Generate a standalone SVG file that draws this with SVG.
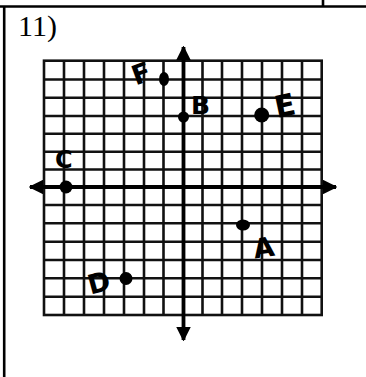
<svg xmlns="http://www.w3.org/2000/svg" width="366" height="377" viewBox="0 0 366 377">
<style>
.border{stroke:#000;stroke-width:2.6;fill:none}
.grid{stroke:#111;stroke-width:2.6;fill:none}
.axis{stroke:#000;stroke-width:3.8;fill:none}
.pt{fill:#000}
.lbl{font-family:"DejaVu Sans","Liberation Sans",sans-serif;font-weight:bold;fill:#000}
.num{font-family:"Liberation Serif","Times New Roman",serif;font-size:30px;fill:#000}
</style>
<defs>
<marker id="ah" viewBox="0 0 10 10" refX="9" refY="5" markerWidth="3.8" markerHeight="3.8" orient="auto" markerUnits="strokeWidth">
<path d="M0,0 L10,5 L0,10 Z" fill="#000"/>
</marker>
</defs>
<g id="frame">
<line class="border" x1="0" y1="6.5" x2="366" y2="6.5"/>
<line class="border" x1="323" y1="0" x2="323" y2="6.5"/>
<line class="border" x1="4.2" y1="6.5" x2="4.2" y2="377"/>
<text class="num" x="18" y="36">11)</text>
</g>
<g id="grid">
<rect class="grid" x="44" y="60.7" width="277.7" height="254.3"/>
<path class="grid" d="M44,79.5H321.7M44,97.8H321.7M44,116H321.7M44,133.8H321.7M44,151.7H321.7M44,169.5H321.7M44,205H321.7M44,223.3H321.7M44,241.7H321.7M44,260H321.7M44,278.3H321.7M44,296.7H321.7"/>
<path class="grid" d="M64,60.7V315M84,60.7V315M104,60.7V315M124,60.7V315M144,60.7V315M163.5,60.7V315M202.5,60.7V315M222,60.7V315M242,60.7V315M262,60.7V315M282,60.7V315M302,60.7V315"/>
</g>
<g id="axes">
<line class="axis" x1="183.5" y1="187" x2="336" y2="187" marker-end="url(#ah)"/>
<line class="axis" x1="183.5" y1="187" x2="30" y2="187" marker-end="url(#ah)"/>
<line class="axis" x1="183.5" y1="187" x2="183.5" y2="47" marker-end="url(#ah)"/>
<line class="axis" x1="183.5" y1="187" x2="183.5" y2="340" marker-end="url(#ah)"/>
</g>
<g id="pointA"><ellipse class="pt" cx="243" cy="225" rx="7" ry="5.5"/><text class="lbl" x="253" y="257" font-size="27" transform="rotate(-8 264 245)">A</text></g>
<g id="pointB"><circle class="pt" cx="183.5" cy="117" r="5.5"/><text class="lbl" x="191" y="114" font-size="25">B</text></g>
<g id="pointC"><circle class="pt" cx="66" cy="187" r="6.5"/><text class="lbl" x="55" y="168" font-size="24">C</text></g>
<g id="pointD"><circle class="pt" cx="126" cy="278.5" r="6.5"/><text class="lbl" x="87" y="292" font-size="27" transform="rotate(-15 99 280)">D</text></g>
<g id="pointE"><circle class="pt" cx="261.7" cy="115" r="7.5"/><text class="lbl" x="274" y="116" font-size="30" transform="rotate(-12 285 103)">E</text></g>
<g id="pointF"><ellipse class="pt" cx="164" cy="79" rx="5" ry="7"/><text class="lbl" x="131" y="82" font-size="27" transform="rotate(-20 143 70)">F</text></g>
</svg>
